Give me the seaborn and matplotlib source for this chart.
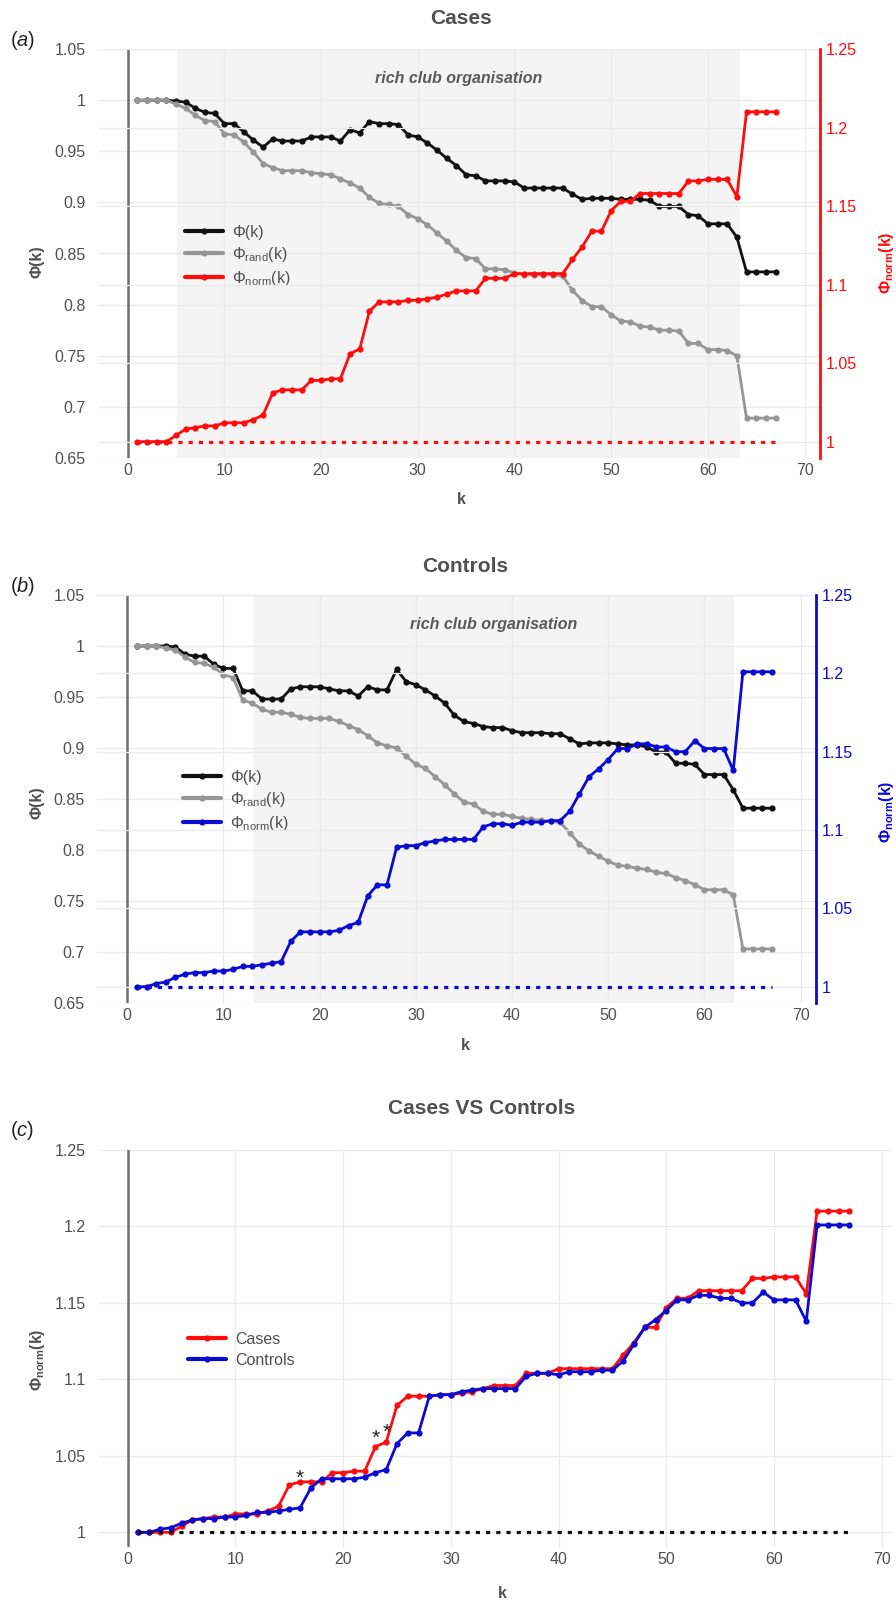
import pandas as pd
import seaborn as sns
import matplotlib.pyplot as plt
from matplotlib.lines import Line2D
from matplotlib.ticker import FuncFormatter, MultipleLocator
from matplotlib.transforms import offset_copy

k = list(range(1, 68))

cases_phi = [1.0, 1.0, 1.0, 1.0, 0.999, 0.998, 0.992, 0.988, 0.987, 0.977,
             0.977, 0.969, 0.961, 0.954, 0.962, 0.960, 0.960, 0.960, 0.964, 0.964,
             0.964, 0.960, 0.971, 0.968, 0.979, 0.977, 0.977, 0.976, 0.966, 0.964,
             0.958, 0.951, 0.943, 0.936, 0.927, 0.926, 0.921, 0.921, 0.921, 0.920,
             0.914, 0.914, 0.914, 0.914, 0.914, 0.908, 0.903, 0.904, 0.904, 0.904,
             0.903, 0.903, 0.903, 0.902, 0.896, 0.896, 0.896, 0.888, 0.887, 0.879,
             0.879, 0.879, 0.866, 0.832, 0.832, 0.832, 0.832]
cases_rand = [1.0, 1.0, 1.0, 1.0, 0.996, 0.992, 0.985, 0.980, 0.979, 0.967,
              0.966, 0.959, 0.949, 0.938, 0.934, 0.931, 0.931, 0.931, 0.929, 0.928,
              0.927, 0.923, 0.919, 0.914, 0.905, 0.899, 0.898, 0.896, 0.888, 0.884,
              0.878, 0.870, 0.862, 0.853, 0.846, 0.845, 0.835, 0.835, 0.834, 0.831,
              0.829, 0.829, 0.829, 0.829, 0.828, 0.814, 0.804, 0.798, 0.798, 0.790,
              0.784, 0.783, 0.779, 0.778, 0.775, 0.775, 0.774, 0.762, 0.762, 0.756,
              0.756, 0.755, 0.750, 0.689, 0.689, 0.689, 0.689]
cases_norm = [1.0, 1.0, 1.0, 1.0, 1.004, 1.008, 1.009, 1.010, 1.010, 1.012,
              1.012, 1.012, 1.014, 1.017, 1.031, 1.033, 1.033, 1.033, 1.039, 1.039,
              1.040, 1.040, 1.056, 1.059, 1.083, 1.089, 1.089, 1.089, 1.090, 1.090,
              1.091, 1.092, 1.094, 1.096, 1.096, 1.096, 1.104, 1.104, 1.104, 1.107,
              1.107, 1.107, 1.107, 1.107, 1.107, 1.116, 1.124, 1.134, 1.134, 1.147,
              1.153, 1.153, 1.158, 1.158, 1.158, 1.158, 1.158, 1.166, 1.166, 1.167,
              1.167, 1.167, 1.156, 1.210, 1.210, 1.210, 1.210]

controls_phi = [1.0, 1.0, 1.0, 1.0, 0.999, 0.992, 0.990, 0.990, 0.982, 0.978,
                0.978, 0.956, 0.956, 0.948, 0.948, 0.948, 0.958, 0.960, 0.960, 0.960,
                0.958, 0.956, 0.956, 0.951, 0.960, 0.957, 0.957, 0.977, 0.965, 0.962,
                0.957, 0.951, 0.944, 0.932, 0.926, 0.924, 0.921, 0.920, 0.920, 0.917,
                0.915, 0.915, 0.915, 0.914, 0.914, 0.909, 0.904, 0.905, 0.905, 0.905,
                0.904, 0.903, 0.903, 0.901, 0.896, 0.896, 0.885, 0.885, 0.884, 0.874,
                0.874, 0.874, 0.859, 0.841, 0.841, 0.841, 0.841]
controls_rand = [1.0, 1.0, 1.0, 0.998, 0.996, 0.989, 0.984, 0.983, 0.979, 0.972,
                 0.969, 0.947, 0.944, 0.938, 0.935, 0.935, 0.933, 0.930, 0.929, 0.929,
                 0.929, 0.926, 0.922, 0.918, 0.912, 0.905, 0.902, 0.900, 0.892, 0.884,
                 0.880, 0.872, 0.864, 0.855, 0.847, 0.845, 0.838, 0.835, 0.835, 0.833,
                 0.831, 0.830, 0.829, 0.828, 0.827, 0.817, 0.806, 0.799, 0.794, 0.789,
                 0.785, 0.784, 0.782, 0.781, 0.778, 0.777, 0.773, 0.770, 0.766, 0.761,
                 0.761, 0.761, 0.756, 0.703, 0.703, 0.703, 0.703]
controls_norm = [1.0, 1.0, 1.002, 1.003, 1.006, 1.008, 1.009, 1.009, 1.010, 1.010,
                 1.011, 1.013, 1.013, 1.014, 1.015, 1.016, 1.029, 1.035, 1.035, 1.035,
                 1.035, 1.036, 1.039, 1.041, 1.058, 1.065, 1.065, 1.089, 1.090, 1.090,
                 1.092, 1.093, 1.094, 1.094, 1.094, 1.094, 1.102, 1.104, 1.104, 1.103,
                 1.105, 1.105, 1.105, 1.106, 1.106, 1.112, 1.123, 1.134, 1.139, 1.145,
                 1.152, 1.152, 1.155, 1.155, 1.153, 1.153, 1.150, 1.150, 1.157, 1.152,
                 1.152, 1.152, 1.138, 1.201, 1.201, 1.201, 1.201]

# significant differences marked in panel (c)
star_k = [16, 23, 24]
star_y = [1.039, 1.065, 1.069]

sns.set_theme(style="white")
plt.rcParams["font.family"] = ["Liberation Sans", "DejaVu Sans"]
plt.rcParams["mathtext.fontset"] = "custom"
plt.rcParams["mathtext.rm"] = "Liberation Sans"
plt.rcParams["mathtext.it"] = "Liberation Sans:italic"
plt.rcParams["mathtext.bf"] = "Liberation Sans:bold"

TXT = "#505050"
GRID = "#ebebeb"
RED = "#ff0d0d"
BLUE = "#0a0ad2"
fmt = FuncFormatter(lambda v, p: f"{v:g}")

phi_lbl = "Φ(k)"
rand_lbl = "Φ$_{\\mathregular{rand}}$(k)"
norm_lbl = "Φ$_{\\mathregular{norm}}$(k)"

fig = plt.figure(figsize=(8.96, 16.22), dpi=100)
W, H = 896, 1622


def px(x, y):
    return x / W, 1 - y / H


def line(ax, df, col, color, lw=2.0):
    sns.lineplot(data=df, x="k", y=col, ax=ax, color=color, linewidth=lw,
                 marker="o", markersize=4.5, markeredgewidth=0, legend=False)


def base_axis(ax, xlim, ylim, ticks_y, label_color, pad=9):
    ax.set_xlim(*xlim)
    ax.set_ylim(*ylim)
    ax.set_yticks(ticks_y)
    ax.yaxis.set_major_formatter(fmt)
    ax.xaxis.set_major_locator(MultipleLocator(10))
    ax.grid(True, axis="y", color=GRID, linewidth=0.9)
    ax.set_axisbelow(True)
    for s in ax.spines.values():
        s.set_visible(False)
    ax.tick_params(axis="y", length=0, labelsize=11.5, labelcolor=label_color, pad=pad)
    ax.tick_params(axis="x", length=0, labelsize=11.5, labelcolor=TXT, pad=3.5)
    ax.set_xlabel("")
    ax.set_ylabel("")


def legend(ax, handles, labels, x, y, spacing):
    ax.legend(handles, labels, loc="upper left", bbox_to_anchor=px(x, y),
              bbox_transform=fig.transFigure, frameon=False, fontsize=11.5,
              borderpad=0, handlelength=2.4, handletextpad=0.55,
              labelspacing=spacing, numpoints=1, labelcolor=TXT)


def rich_panel(rect, xlim, phi, rand, norm, color, span, title, title_xy,
               tag, tag_y, leg_xy, ylab_y, rlab_y, klab_xy):
    ax = fig.add_axes(rect)
    ax2 = ax.twinx()
    df = pd.DataFrame({"k": k, "phi": phi, "rand": rand, "norm": norm})

    ax.axvspan(span[0], span[1], color="#f4f4f4", lw=0, zorder=0)
    ax.axvline(0, color="#6e6e6e", linewidth=1.8, zorder=1)
    line(ax, df, "phi", "#111111")
    line(ax, df, "rand", "#969696")
    line(ax2, df, "norm", color)
    ax2.hlines(1.0, k[0], k[-1], colors=color, linestyles=(0, (1.3, 1.9)), linewidth=2.3)

    base_axis(ax, xlim, (0.65, 1.05), [0.65 + 0.05 * i for i in range(9)], TXT, pad=9)
    ax.grid(True, axis="x", color=GRID, linewidth=0.9)
    base_axis(ax2, xlim, (0.9896, 1.25), [1.0 + 0.05 * i for i in range(6)], color, pad=4)
    ax2.spines["right"].set_visible(True)
    ax2.spines["right"].set_color(color)
    ax2.spines["right"].set_linewidth(2)

    ax.text((span[0] + span[1]) / 2, 1.021, "rich club organisation", ha="center",
            va="center", fontsize=11.5, fontweight="bold", style="italic", color="#5a5a5a")

    handles = [Line2D([], [], color=c, lw=3, marker="o", markersize=4.5, markeredgewidth=0)
               for c in ["#111111", "#969696", color]]
    legend(ax, handles, [phi_lbl, rand_lbl, norm_lbl], leg_xy[0], leg_xy[1], 0.3)

    fig.text(*px(*title_xy), title, ha="center", va="center", fontsize=15,
             fontweight="bold", color=TXT)
    fig.text(*px(10, tag_y), tag, ha="left", va="center", fontsize=14.5, color="#222222")
    fig.text(*px(37, ylab_y), phi_lbl, rotation=90, ha="center", va="center",
             fontsize=11.5, fontweight="bold", color=TXT)
    fig.text(*px(886, rlab_y), norm_lbl, rotation=90, ha="center", va="center",
             fontsize=11.5, fontweight="bold", color=color)
    fig.text(*px(*klab_xy), "k", ha="center", va="center", fontsize=11.5,
             fontweight="bold", color=TXT)
    return ax, ax2


rich_panel([98 / W, 1 - 458 / H, 722 / W, 409 / H], (-3.07, 71.6),
           cases_phi, cases_rand, cases_norm, RED, (5.05, 63.3),
           "Cases", (461, 18), "($\\mathit{a}$)", 41, (177, 217), 262, 263, (461, 500))

rich_panel([97 / W, 1 - 1003 / H, 719 / W, 408 / H], (-3.15, 71.6),
           controls_phi, controls_rand, controls_norm, BLUE, (13.1, 63.1),
           "Controls", (465, 566), "($\\mathit{b}$)", 587, (175, 762), 803, 812, (465, 1045))

# panel (c): cases vs controls
axc = fig.add_axes([98 / W, 1 - 1547 / H, 795 / W, 397 / H])
dfc = pd.DataFrame({"k": k, "Cases": cases_norm, "Controls": controls_norm})
axc.axvline(0, color="#6e6e6e", linewidth=1.8, zorder=1)
line(axc, dfc, "Cases", RED)
line(axc, dfc, "Controls", BLUE)
axc.hlines(1.0, k[0], k[-1], colors="#111111", linestyles=(0, (1.3, 1.9)), linewidth=2.3)
base_axis(axc, (-2.76, 71.05), (0.9904, 1.25), [1.0 + 0.05 * i for i in range(6)], TXT, pad=9)
axc.grid(True, axis="x", color=GRID, linewidth=0.9)
star_tr = offset_copy(axc.transData, fig=fig, y=-11, units="dots")
for sx, sy in zip(star_k, star_y):
    axc.text(sx, sy, "*", ha="center", va="baseline", fontsize=15,
             color="#222222", transform=star_tr)

handles = [Line2D([], [], color=c, lw=3, marker="o", markersize=4.5, markeredgewidth=0)
           for c in [RED, BLUE]]
legend(axc, handles, ["Cases", "Controls"], 180, 1324, 0.35)

fig.text(*px(482, 1108), "Cases VS Controls", ha="center", va="center", fontsize=15,
         fontweight="bold", color=TXT)
fig.text(*px(10, 1130), "($\\mathit{c}$)", ha="left", va="center", fontsize=14.5, color="#222222")
fig.text(*px(37, 1360), norm_lbl, rotation=90, ha="center", va="center",
         fontsize=11.5, fontweight="bold", color=TXT)
fig.text(*px(502, 1593), "k", ha="center", va="center", fontsize=11.5,
         fontweight="bold", color=TXT)

fig.savefig("out.png", dpi=100, facecolor="white")
